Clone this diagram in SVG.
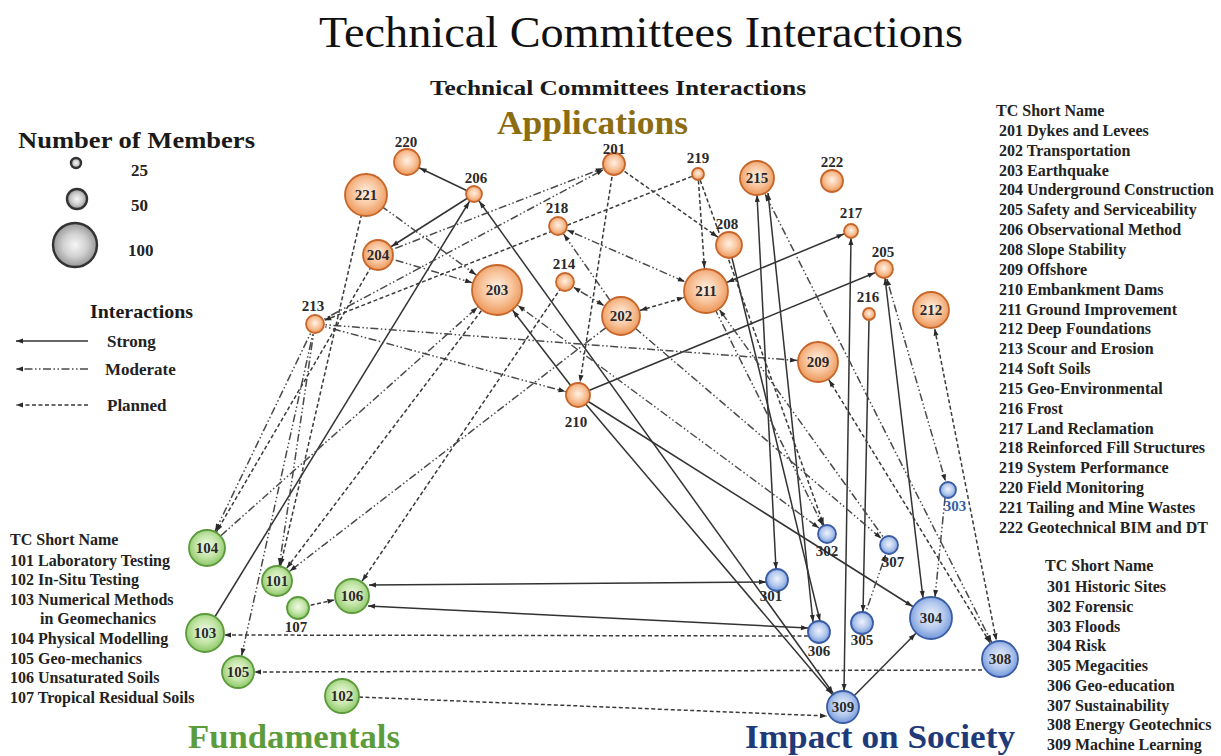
<svg xmlns="http://www.w3.org/2000/svg" width="1221" height="756" viewBox="0 0 1221 756">
<defs>
<radialGradient id="gO" cx="50%" cy="45%" r="55%"><stop offset="0" stop-color="#fff2e6"/><stop offset="0.55" stop-color="#f8c49c"/><stop offset="1" stop-color="#ec9658"/></radialGradient>
<radialGradient id="gG" cx="50%" cy="45%" r="55%"><stop offset="0" stop-color="#f1fae9"/><stop offset="0.55" stop-color="#c5e6a9"/><stop offset="1" stop-color="#8cc766"/></radialGradient>
<radialGradient id="gB" cx="50%" cy="45%" r="55%"><stop offset="0" stop-color="#eef3fc"/><stop offset="0.55" stop-color="#b7cbee"/><stop offset="1" stop-color="#7398db"/></radialGradient>
<radialGradient id="gK" cx="50%" cy="50%" r="55%"><stop offset="0" stop-color="#f7f7f7"/><stop offset="0.5" stop-color="#cfcfcf"/><stop offset="1" stop-color="#8a8a8a"/></radialGradient>
<marker id="e0" viewBox="0 0 7 5" markerUnits="userSpaceOnUse" markerWidth="7" markerHeight="5" refX="7" refY="2.5" orient="auto-start-reverse" overflow="visible"><path d="M0,0 L7,2.5 L0,5 z" fill="#2a2a2a"/></marker>
<marker id="e6" viewBox="0 0 7 5" markerUnits="userSpaceOnUse" markerWidth="7" markerHeight="5" refX="14" refY="2.5" orient="auto-start-reverse" overflow="visible"><path d="M0,0 L7,2.5 L0,5 z" fill="#2a2a2a"/></marker>
<marker id="e7" viewBox="0 0 7 5" markerUnits="userSpaceOnUse" markerWidth="7" markerHeight="5" refX="15" refY="2.5" orient="auto-start-reverse" overflow="visible"><path d="M0,0 L7,2.5 L0,5 z" fill="#2a2a2a"/></marker>
<marker id="e8" viewBox="0 0 7 5" markerUnits="userSpaceOnUse" markerWidth="7" markerHeight="5" refX="16" refY="2.5" orient="auto-start-reverse" overflow="visible"><path d="M0,0 L7,2.5 L0,5 z" fill="#2a2a2a"/></marker>
<marker id="e9" viewBox="0 0 7 5" markerUnits="userSpaceOnUse" markerWidth="7" markerHeight="5" refX="17" refY="2.5" orient="auto-start-reverse" overflow="visible"><path d="M0,0 L7,2.5 L0,5 z" fill="#2a2a2a"/></marker>
<marker id="e11" viewBox="0 0 7 5" markerUnits="userSpaceOnUse" markerWidth="7" markerHeight="5" refX="19" refY="2.5" orient="auto-start-reverse" overflow="visible"><path d="M0,0 L7,2.5 L0,5 z" fill="#2a2a2a"/></marker>
<marker id="e12" viewBox="0 0 7 5" markerUnits="userSpaceOnUse" markerWidth="7" markerHeight="5" refX="20" refY="2.5" orient="auto-start-reverse" overflow="visible"><path d="M0,0 L7,2.5 L0,5 z" fill="#2a2a2a"/></marker>
<marker id="e13" viewBox="0 0 7 5" markerUnits="userSpaceOnUse" markerWidth="7" markerHeight="5" refX="21" refY="2.5" orient="auto-start-reverse" overflow="visible"><path d="M0,0 L7,2.5 L0,5 z" fill="#2a2a2a"/></marker>
<marker id="e15" viewBox="0 0 7 5" markerUnits="userSpaceOnUse" markerWidth="7" markerHeight="5" refX="23" refY="2.5" orient="auto-start-reverse" overflow="visible"><path d="M0,0 L7,2.5 L0,5 z" fill="#2a2a2a"/></marker>
<marker id="e16" viewBox="0 0 7 5" markerUnits="userSpaceOnUse" markerWidth="7" markerHeight="5" refX="24" refY="2.5" orient="auto-start-reverse" overflow="visible"><path d="M0,0 L7,2.5 L0,5 z" fill="#2a2a2a"/></marker>
<marker id="e17" viewBox="0 0 7 5" markerUnits="userSpaceOnUse" markerWidth="7" markerHeight="5" refX="25" refY="2.5" orient="auto-start-reverse" overflow="visible"><path d="M0,0 L7,2.5 L0,5 z" fill="#2a2a2a"/></marker>
<marker id="e18" viewBox="0 0 7 5" markerUnits="userSpaceOnUse" markerWidth="7" markerHeight="5" refX="26" refY="2.5" orient="auto-start-reverse" overflow="visible"><path d="M0,0 L7,2.5 L0,5 z" fill="#2a2a2a"/></marker>
<marker id="e19" viewBox="0 0 7 5" markerUnits="userSpaceOnUse" markerWidth="7" markerHeight="5" refX="27" refY="2.5" orient="auto-start-reverse" overflow="visible"><path d="M0,0 L7,2.5 L0,5 z" fill="#2a2a2a"/></marker>
<marker id="e20" viewBox="0 0 7 5" markerUnits="userSpaceOnUse" markerWidth="7" markerHeight="5" refX="28" refY="2.5" orient="auto-start-reverse" overflow="visible"><path d="M0,0 L7,2.5 L0,5 z" fill="#2a2a2a"/></marker>
<marker id="e21" viewBox="0 0 7 5" markerUnits="userSpaceOnUse" markerWidth="7" markerHeight="5" refX="29" refY="2.5" orient="auto-start-reverse" overflow="visible"><path d="M0,0 L7,2.5 L0,5 z" fill="#2a2a2a"/></marker>
<marker id="e22" viewBox="0 0 7 5" markerUnits="userSpaceOnUse" markerWidth="7" markerHeight="5" refX="30" refY="2.5" orient="auto-start-reverse" overflow="visible"><path d="M0,0 L7,2.5 L0,5 z" fill="#2a2a2a"/></marker>
<marker id="e25" viewBox="0 0 7 5" markerUnits="userSpaceOnUse" markerWidth="7" markerHeight="5" refX="33" refY="2.5" orient="auto-start-reverse" overflow="visible"><path d="M0,0 L7,2.5 L0,5 z" fill="#2a2a2a"/></marker>
</defs>
<style>
.s{stroke:#333;stroke-width:1.5;fill:none}
.m{stroke:#4a4a4a;stroke-width:1.5;fill:none;stroke-dasharray:8 2.5 1.5 2.5 1.5 2.5}
.p{stroke:#3a3a3a;stroke-width:1.5;fill:none;stroke-dasharray:4 2.5}
.o{fill:url(#gO);stroke:#c7662a;stroke-width:1.8}
.g{fill:url(#gG);stroke:#5a9a3a;stroke-width:1.8}
.b{fill:url(#gB);stroke:#3a5ca4;stroke-width:1.8}
.k{fill:url(#gK);stroke:#333;stroke-width:2.4}
text{font-family:"Liberation Serif","Times New Roman",serif}
.lb{font-size:15px;font-weight:bold;fill:#2a2a2a;text-anchor:middle}
.ls{font-size:16px;font-weight:bold;fill:#222}
.lg{font-size:17px;font-weight:bold;fill:#222}
</style>
<rect width="1221" height="756" fill="#ffffff"/>

<g id="titles">
<text x="319" y="47" font-size="44" fill="#111" textLength="644" lengthAdjust="spacingAndGlyphs">Technical Committees Interactions</text>
<text x="430" y="95" font-size="22" font-weight="bold" fill="#1a1a1a" textLength="376" lengthAdjust="spacingAndGlyphs">Technical Committees Interactions</text>
<text x="497" y="134" font-size="33" font-weight="bold" fill="#8c6d12" textLength="191" lengthAdjust="spacingAndGlyphs">Applications</text>
<text x="188" y="748" font-size="34" font-weight="bold" fill="#5c9c3c" textLength="212" lengthAdjust="spacingAndGlyphs">Fundamentals</text>
<text x="745" y="748" font-size="34" font-weight="bold" fill="#1e3a78" textLength="270" lengthAdjust="spacingAndGlyphs">Impact on Society</text>
</g>

<g id="legend-members">
<text x="18" y="148" font-size="23" font-weight="bold" fill="#1a1a1a" textLength="237" lengthAdjust="spacingAndGlyphs">Number  of Members</text>
<circle class="k" cx="76" cy="163" r="5"/>
<circle class="k" cx="77" cy="199" r="10"/>
<circle class="k" cx="75" cy="245" r="22"/>
<text class="lg" x="131" y="176">25</text>
<text class="lg" x="131" y="211">50</text>
<text class="lg" x="128" y="256" font-size="18">100</text>
</g>

<g id="legend-interactions">
<text x="90" y="318" font-size="19" font-weight="bold" fill="#1a1a1a" textLength="103" lengthAdjust="spacingAndGlyphs">Interactions</text>
<line class="s" x1="88" y1="341" x2="16" y2="341" marker-end="url(#e0)"/>
<line class="m" x1="88" y1="369" x2="16" y2="369" marker-end="url(#e0)"/>
<line class="p" x1="88" y1="405" x2="16" y2="405" marker-end="url(#e0)"/>
<text class="lg" x="107" y="347">Strong</text>
<text class="lg" x="105" y="375">Moderate</text>
<text class="lg" x="107" y="411">Planned</text>
</g>

<g id="connectors">
<line class="s" x1="474" y1="194" x2="407" y2="162" marker-end="url(#e13)"/>
<line class="s" x1="474" y1="194" x2="378" y2="255" marker-end="url(#e15)"/>
<line class="s" x1="205" y1="633" x2="474" y2="194" marker-end="url(#e8)"/>
<line class="s" x1="474" y1="194" x2="843" y2="707" marker-start="url(#e8)" marker-end="url(#e16)"/>
<line class="s" x1="578" y1="395" x2="497" y2="290" marker-end="url(#e25)"/>
<line class="s" x1="578" y1="395" x2="843" y2="707" marker-end="url(#e16)"/>
<line class="s" x1="578" y1="395" x2="931" y2="618" marker-end="url(#e21)"/>
<line class="s" x1="578" y1="395" x2="884" y2="269" marker-end="url(#e9)"/>
<line class="s" x1="706" y1="291" x2="851" y2="231" marker-start="url(#e22)" marker-end="url(#e7)"/>
<line class="s" x1="757" y1="195" x2="776" y2="569" marker-start="url(#e0)" marker-end="url(#e0)"/>
<line class="s" x1="768" y1="193" x2="813" y2="622" marker-start="url(#e0)" marker-end="url(#e0)"/>
<line class="s" x1="732" y1="258" x2="820" y2="621" marker-end="url(#e0)"/>
<line class="s" x1="851" y1="238" x2="844" y2="691" marker-start="url(#e0)" marker-end="url(#e0)"/>
<line class="s" x1="869" y1="320" x2="863" y2="612" marker-end="url(#e0)"/>
<line class="s" x1="885" y1="278" x2="923" y2="598" marker-start="url(#e0)" marker-end="url(#e0)"/>
<line class="s" x1="843" y1="707" x2="931" y2="618" marker-end="url(#e21)"/>
<line class="s" x1="369" y1="585" x2="766" y2="582" marker-start="url(#e0)" marker-end="url(#e0)"/>
<line class="s" x1="368" y1="606" x2="808" y2="628" marker-start="url(#e0)" marker-end="url(#e0)"/>
<line class="m" x1="315" y1="324" x2="818" y2="362" marker-end="url(#e20)"/>
<line class="m" x1="315" y1="324" x2="578" y2="395" marker-end="url(#e12)"/>
<line class="m" x1="315" y1="324" x2="614" y2="164" marker-end="url(#e11)"/>
<line class="m" x1="378" y1="255" x2="497" y2="290" marker-end="url(#e25)"/>
<line class="m" x1="366" y1="195" x2="497" y2="290" marker-end="url(#e25)"/>
<line class="m" x1="378" y1="255" x2="614" y2="164" marker-end="url(#e11)"/>
<line class="m" x1="558" y1="226" x2="706" y2="291" marker-start="url(#e9)" marker-end="url(#e22)"/>
<line class="m" x1="565" y1="282" x2="621" y2="316" marker-start="url(#e9)" marker-end="url(#e19)"/>
<line class="m" x1="207" y1="548" x2="497" y2="290" marker-end="url(#e25)"/>
<line class="m" x1="315" y1="324" x2="207" y2="548" marker-end="url(#e18)"/>
<line class="m" x1="315" y1="324" x2="277" y2="581" marker-end="url(#e15)"/>
<line class="m" x1="315" y1="324" x2="238" y2="672" marker-end="url(#e16)"/>
<line class="m" x1="757" y1="178" x2="1000" y2="659" marker-start="url(#e17)" marker-end="url(#e18)"/>
<line class="m" x1="945" y1="498" x2="935" y2="597" marker-end="url(#e0)"/>
<line class="m" x1="884" y1="269" x2="948" y2="490" marker-start="url(#e9)" marker-end="url(#e8)"/>
<line class="m" x1="497" y1="290" x2="827" y2="534" marker-start="url(#e25)" marker-end="url(#e9)"/>
<line class="m" x1="621" y1="316" x2="889" y2="545" marker-end="url(#e9)"/>
<line class="m" x1="889" y1="545" x2="706" y2="291" marker-end="url(#e22)"/>
<line class="m" x1="621" y1="316" x2="277" y2="581" marker-end="url(#e15)"/>
<line class="m" x1="621" y1="316" x2="558" y2="226" marker-end="url(#e9)"/>
<line class="m" x1="862" y1="623" x2="889" y2="545" marker-end="url(#e9)"/>
<line class="m" x1="706" y1="291" x2="827" y2="534" marker-end="url(#e9)"/>
<line class="p" x1="614" y1="164" x2="729" y2="245" marker-end="url(#e13)"/>
<line class="p" x1="614" y1="164" x2="578" y2="395" marker-end="url(#e12)"/>
<line class="p" x1="698" y1="174" x2="706" y2="291" marker-end="url(#e22)"/>
<line class="p" x1="621" y1="316" x2="706" y2="291" marker-start="url(#e19)" marker-end="url(#e22)"/>
<line class="p" x1="497" y1="290" x2="277" y2="581" marker-end="url(#e15)"/>
<line class="p" x1="565" y1="282" x2="352" y2="596" marker-end="url(#e17)"/>
<line class="p" x1="378" y1="255" x2="207" y2="548" marker-end="url(#e18)"/>
<line class="p" x1="366" y1="195" x2="277" y2="581" marker-end="url(#e15)"/>
<line class="p" x1="698" y1="174" x2="315" y2="324" marker-end="url(#e9)"/>
<line class="p" x1="931" y1="310" x2="1000" y2="659" marker-start="url(#e18)" marker-end="url(#e18)"/>
<line class="p" x1="818" y1="362" x2="1000" y2="659" marker-start="url(#e20)" marker-end="url(#e18)"/>
<line class="p" x1="808" y1="636" x2="224" y2="635" marker-end="url(#e0)"/>
<line class="p" x1="982" y1="670" x2="254" y2="672" marker-end="url(#e0)"/>
<line class="p" x1="359" y1="697" x2="827" y2="716" marker-end="url(#e0)"/>
<line class="p" x1="298" y1="608" x2="352" y2="596" marker-end="url(#e17)"/>
<line class="p" x1="698" y1="174" x2="827" y2="534" marker-end="url(#e9)"/>
</g>

<g id="n220"><circle class="o" cx="407" cy="162" r="13"/><text class="lb" x="406" y="147">220</text></g>
<g id="n221"><circle class="o" cx="366" cy="195" r="21"/><text class="lb" x="366" y="200">221</text></g>
<g id="n206"><circle class="o" cx="474" cy="194" r="8"/><text class="lb" x="476" y="183">206</text></g>
<g id="n201"><circle class="o" cx="614" cy="164" r="11"/><text class="lb" x="614" y="154" font-size="14">201</text></g>
<g id="n219"><circle class="o" cx="698" cy="174" r="6"/><text class="lb" x="698" y="163">219</text></g>
<g id="n215"><circle class="o" cx="757" cy="178" r="17"/><text class="lb" x="757" y="183">215</text></g>
<g id="n222"><circle class="o" cx="832" cy="181" r="11"/><text class="lb" x="832" y="167">222</text></g>
<g id="n218"><circle class="o" cx="558" cy="226" r="9"/><text class="lb" x="557" y="213">218</text></g>
<g id="n208"><circle class="o" cx="729" cy="245" r="13"/><text class="lb" x="727" y="229">208</text></g>
<g id="n217"><circle class="o" cx="851" cy="231" r="7"/><text class="lb" x="851" y="218">217</text></g>
<g id="n204"><circle class="o" cx="378" cy="255" r="15"/><text class="lb" x="378" y="260">204</text></g>
<g id="n205"><circle class="o" cx="884" cy="269" r="9"/><text class="lb" x="883" y="257">205</text></g>
<g id="n214"><circle class="o" cx="565" cy="282" r="9"/><text class="lb" x="564" y="269">214</text></g>
<g id="n203"><circle class="o" cx="497" cy="290" r="25"/><text class="lb" x="497" y="295">203</text></g>
<g id="n211"><circle class="o" cx="706" cy="291" r="22"/><text class="lb" x="706" y="296">211</text></g>
<g id="n202"><circle class="o" cx="621" cy="316" r="19"/><text class="lb" x="621" y="321">202</text></g>
<g id="n216"><circle class="o" cx="869" cy="314" r="6"/><text class="lb" x="868" y="302">216</text></g>
<g id="n212"><circle class="o" cx="931" cy="310" r="18"/><text class="lb" x="931" y="315">212</text></g>
<g id="n213"><circle class="o" cx="315" cy="324" r="9"/><text class="lb" x="313" y="311">213</text></g>
<g id="n209"><circle class="o" cx="818" cy="362" r="20"/><text class="lb" x="818" y="367">209</text></g>
<g id="n210"><circle class="o" cx="578" cy="395" r="12"/><text class="lb" x="576" y="427">210</text></g>

<g id="n303"><circle class="b" cx="948" cy="490" r="8"/><text class="lb" x="955" y="511" style="fill:#3a5ca4">303</text></g>
<g id="n302"><circle class="b" cx="827" cy="534" r="9"/><text class="lb" x="827" y="556">302</text></g>
<g id="n307"><circle class="b" cx="889" cy="545" r="9"/><text class="lb" x="893" y="567">307</text></g>
<g id="n301"><circle class="b" cx="777" cy="580" r="11"/><text class="lb" x="771" y="601">301</text></g>
<g id="n304"><circle class="b" cx="931" cy="618" r="21"/><text class="lb" x="931" y="623">304</text></g>
<g id="n305"><circle class="b" cx="862" cy="623" r="11"/><text class="lb" x="862" y="645">305</text></g>
<g id="n306"><circle class="b" cx="819" cy="632" r="11"/><text class="lb" x="819" y="656">306</text></g>
<g id="n308"><circle class="b" cx="1000" cy="659" r="18"/><text class="lb" x="1000" y="664">308</text></g>
<g id="n309"><circle class="b" cx="843" cy="707" r="16"/><text class="lb" x="843" y="712">309</text></g>

<g id="n104"><circle class="g" cx="207" cy="548" r="18"/><text class="lb" x="207" y="553">104</text></g>
<g id="n101"><circle class="g" cx="277" cy="581" r="15"/><text class="lb" x="277" y="586">101</text></g>
<g id="n106"><circle class="g" cx="352" cy="596" r="17"/><text class="lb" x="352" y="601">106</text></g>
<g id="n107"><circle class="g" cx="298" cy="608" r="11"/><text class="lb" x="296" y="632">107</text></g>
<g id="n103"><circle class="g" cx="205" cy="633" r="19"/><text class="lb" x="205" y="638">103</text></g>
<g id="n105"><circle class="g" cx="238" cy="672" r="16"/><text class="lb" x="238" y="677">105</text></g>
<g id="n102"><circle class="g" cx="342" cy="696" r="17"/><text class="lb" x="342" y="701">102</text></g>

<g id="list-200">
<text class="ls" x="996" y="116">TC Short Name</text>
<text class="ls" x="999" y="136">201 Dykes and Levees</text>
<text class="ls" x="999" y="156">202 Transportation</text>
<text class="ls" x="999" y="176">203 Earthquake</text>
<text class="ls" x="999" y="195">204 Underground Construction</text>
<text class="ls" x="999" y="215">205 Safety and Serviceability</text>
<text class="ls" x="999" y="235">206 Observational Method</text>
<text class="ls" x="999" y="255">208 Slope Stability</text>
<text class="ls" x="999" y="275">209 Offshore</text>
<text class="ls" x="999" y="295">210 Embankment Dams</text>
<text class="ls" x="999" y="315">211 Ground Improvement</text>
<text class="ls" x="999" y="334">212 Deep Foundations</text>
<text class="ls" x="999" y="354">213 Scour and Erosion</text>
<text class="ls" x="999" y="374">214 Soft Soils</text>
<text class="ls" x="999" y="394">215 Geo-Environmental</text>
<text class="ls" x="999" y="414">216 Frost</text>
<text class="ls" x="999" y="434">217 Land Reclamation</text>
<text class="ls" x="999" y="453">218 Reinforced Fill Structures</text>
<text class="ls" x="999" y="473">219 System Performance</text>
<text class="ls" x="999" y="493">220 Field Monitoring</text>
<text class="ls" x="999" y="513">221 Tailing and Mine Wastes</text>
<text class="ls" x="999" y="533">222 Geotechnical BIM and DT</text>
</g>

<g id="list-300">
<text class="ls" x="1045" y="571">TC Short Name</text>
<text class="ls" x="1047" y="592">301 Historic Sites</text>
<text class="ls" x="1047" y="612">302 Forensic</text>
<text class="ls" x="1047" y="632">303 Floods</text>
<text class="ls" x="1047" y="651">304 Risk</text>
<text class="ls" x="1047" y="671">305 Megacities</text>
<text class="ls" x="1047" y="691">306 Geo-education</text>
<text class="ls" x="1047" y="711">307 Sustainability</text>
<text class="ls" x="1047" y="730">308 Energy Geotechnics</text>
<text class="ls" x="1047" y="750">309 Machine Learning</text>
</g>

<g id="list-100">
<text class="ls" x="10" y="545">TC  Short Name</text>
<text class="ls" x="10" y="566">101 Laboratory Testing</text>
<text class="ls" x="10" y="585">102 In-Situ Testing</text>
<text class="ls" x="10" y="605">103 Numerical Methods</text>
<text class="ls" x="40" y="624">in Geomechanics</text>
<text class="ls" x="10" y="644">104 Physical Modelling</text>
<text class="ls" x="10" y="664">105 Geo-mechanics</text>
<text class="ls" x="10" y="683">106 Unsaturated Soils</text>
<text class="ls" x="10" y="703">107 Tropical Residual Soils</text>
</g>
</svg>
